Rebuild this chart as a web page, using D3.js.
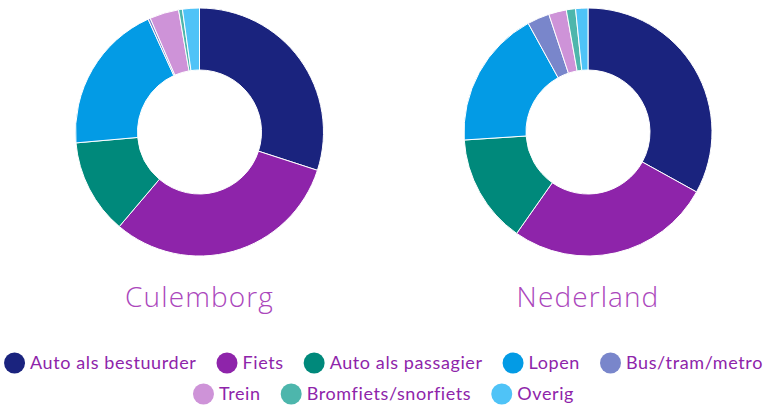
<!DOCTYPE html>
<html>
<head>
<meta charset="utf-8">
<script src="https://cdn.jsdelivr.net/npm/d3@7"></script>
<style>
  html, body { margin: 0; padding: 0; background: #ffffff; }
  svg { display: block; }
</style>
</head>
<body>
<svg id="chart" width="767" height="405"></svg>
<script>
// Vervoerwijzen (aandeel verplaatsingen, %)
const categories = ["Auto als bestuurder", "Fiets", "Auto als passagier", "Lopen",
                    "Bus/tram/metro", "Trein", "Bromfiets/snorfiets", "Overig"];
const regions = ["Culemborg", "Nederland"];
const culemborgValues = [30.0, 31.2, 12.4, 19.6, 0.3, 3.8, 0.5, 2.2];
const nederlandValues = [33.0, 26.7, 14.2, 18.0, 2.9, 2.3, 1.2, 1.6];
const colors = ["#1a237e", "#8e24aa", "#00897b", "#039be5",
                "#7986cb", "#ce93d8", "#4db6ac", "#4fc3f7"];

const svg = d3.select("#chart");
const W = 767;

const color = d3.scaleOrdinal().domain(categories).range(colors);
const pie = d3.pie().sort(null).value(d => d.value);
const arc = d3.arc().innerRadius(62).outerRadius(124);

const donuts = [
  { name: regions[0], values: culemborgValues, cx: 199.5, cy: 132 },
  { name: regions[1], values: nederlandValues, cx: 588, cy: 132 }
];

donuts.forEach(dn => {
  const data = categories.map((c, i) => ({ cat: c, value: dn.values[i] }));
  const g = svg.append("g").attr("transform", `translate(${dn.cx},${dn.cy})`);
  g.selectAll("path")
    .data(pie(data))
    .join("path")
    .attr("d", arc)
    .attr("fill", d => color(d.data.cat))
    .attr("stroke", "#ffffff")
    .attr("stroke-width", 1);

  svg.append("text")
    .attr("x", dn.cx)
    .attr("y", 307)
    .attr("text-anchor", "middle")
    .attr("font-family", "'Open Sans', sans-serif")
    .attr("font-weight", 300)
    .attr("font-size", 28)
    .attr("letter-spacing", 1.1)
    .attr("fill", "#ab47bc")
    .text(dn.name);
});

// Legenda: twee gecentreerde rijen
const rows = [categories.slice(0, 5), categories.slice(5)];
const rowY = [363, 394];
const r = 10.5, gapText = 5, gapItem = 20;

rows.forEach((row, ri) => {
  const lg = svg.append("g");
  let x = 0;
  row.forEach(cat => {
    const item = lg.append("g").attr("transform", `translate(${x},0)`);
    item.append("circle")
      .attr("cx", r).attr("cy", 0).attr("r", r)
      .attr("fill", color(cat));
    const t = item.append("text")
      .attr("x", 2 * r + gapText)
      .attr("y", 0)
      .attr("dy", "0.36em")
      .attr("font-family", "Lato, sans-serif")
      .attr("font-size", 18)
      .attr("letter-spacing", 0.6)
      .attr("fill", "#8e24aa")
      .text(cat);
    x += 2 * r + gapText + t.node().getComputedTextLength() + gapItem;
  });
  const total = x - gapItem;
  lg.attr("transform", `translate(${(W - total) / 2},${rowY[ri]})`);
});
</script>
</body>
</html>
